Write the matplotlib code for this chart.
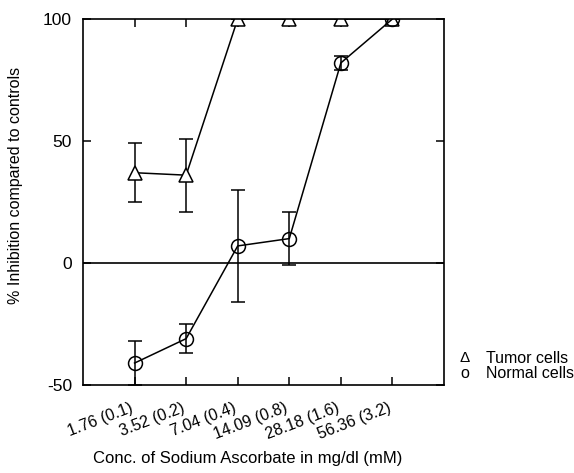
import matplotlib
matplotlib.use('Agg')
import matplotlib.pyplot as plt
from matplotlib.transforms import ScaledTranslation

plt.rcParams['font.family'] = ['Liberation Sans', 'DejaVu Sans']
plt.rcParams['axes.unicode_minus'] = False

conc_labels = ['1.76 (0.1)', '3.52 (0.2)', '7.04 (0.4)', '14.09 (0.8)', '28.18 (1.6)', '56.36 (3.2)']
x = [1, 2, 3, 4, 5, 6]

tumor = [37, 36, 100, 100, 100, 100]
tumor_err = [12, 15, 0, 0, 0, 0]

normal = [-41, -31, 7, 10, 82, 100]
normal_err = [9, 6, 23, 11, 3, 0]

fig = plt.figure(figsize=(5.74, 4.73), dpi=100)
ax = fig.add_axes([83/574, 1 - 385/473, (444-83)/574, (385-19)/473])

ax.axhline(0, color='black', lw=1.2, zorder=1)

ax.errorbar(x, tumor, yerr=tumor_err, color='black', lw=1.1, marker='^', ms=10,
            mfc='white', mec='black', mew=1.1, capsize=5, elinewidth=1.1, capthick=1.1)
ax.errorbar(x, normal, yerr=normal_err, color='black', lw=1.1, marker='o', ms=10,
            mfc='none', mec='black', mew=1.1, capsize=5, elinewidth=1.1, capthick=1.1)

ax.set_xlim(0, 7)
ax.set_ylim(-50, 100)
ax.set_xticks(x)
ax.set_xticklabels(conc_labels, rotation=21, ha='right', va='top', rotation_mode='anchor', fontsize=11.5)
ax.set_yticks([-50, 0, 50, 100])
ax.tick_params(direction='in', top=True, right=True, length=6, width=1.1)
ax.tick_params(axis='y', labelsize=12.5, pad=8)
ax.tick_params(axis='x', pad=11)
shift = ScaledTranslation(-5/100, 0, fig.dpi_scale_trans)
for lab in ax.get_xticklabels():
    lab.set_transform(lab.get_transform() + shift)
for s in ax.spines.values():
    s.set_linewidth(1.2)

fig.text(16/574, 1 - 185/473, '% Inhibition compared to controls', rotation=90,
         ha='center', va='center', fontsize=11.5)
fig.text(248/574, 1 - 458/473, 'Conc. of Sodium Ascorbate in mg/dl (mM)', ha='center', va='center', fontsize=12)

fig.text(465/574, 1 - 358/473, '\u0394', fontsize=11, va='center', ha='center')
fig.text(465/574, 1 - 373/473, 'o', fontsize=11.5, va='center', ha='center')
fig.text(486/574, 1 - 358/473, 'Tumor cells', fontsize=11.5, va='center', ha='left')
fig.text(486/574, 1 - 373/473, 'Normal cells', fontsize=11.5, va='center', ha='left')

fig.savefig('out.png', dpi=100)
